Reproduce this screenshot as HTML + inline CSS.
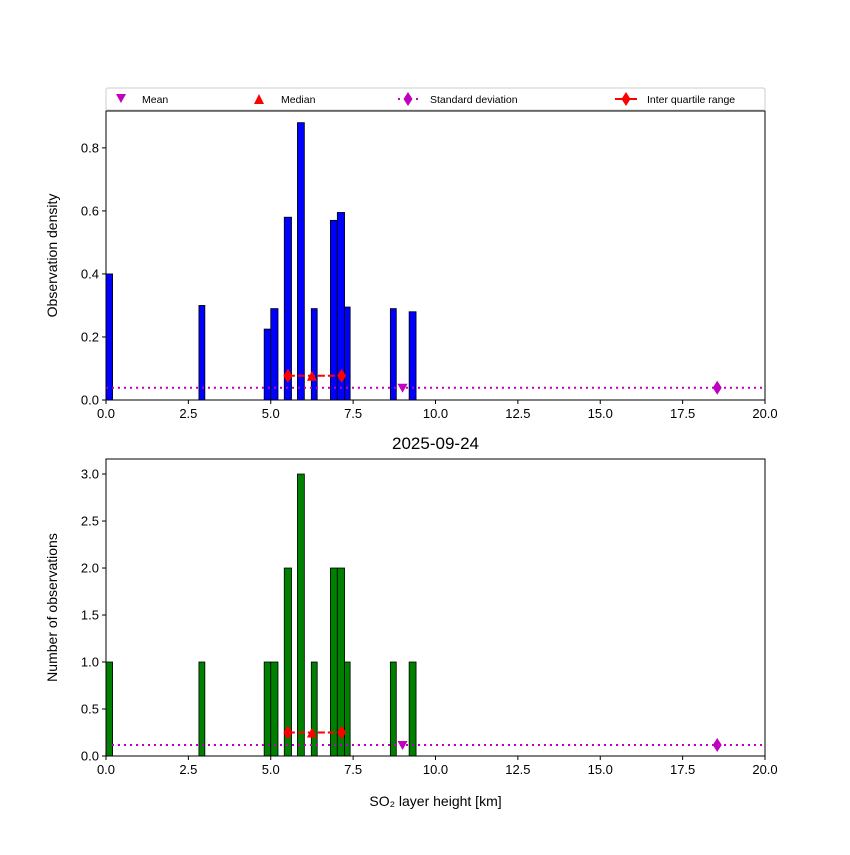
<!DOCTYPE html>
<html><head><meta charset="utf-8"><style>
body{margin:0;background:#fff;}
svg text{font-family:"Liberation Sans","DejaVu Sans",sans-serif;}
</style></head><body>
<svg id="chart" width="850" height="850" xmlns="http://www.w3.org/2000/svg"></svg>
<script>
const binLeft=[0.0,2.82,4.8,5.0,5.41,5.81,6.23,6.81,7.02,7.24,8.63,9.2];
const binRight=[0.2,3.0,5.0,5.22,5.63,6.02,6.41,7.02,7.24,7.41,8.81,9.41];
const counts=[1,1,1,1,2,3,1,2,2,1,1,1];
const densities=[0.40,0.30,0.225,0.29,0.58,0.88,0.29,0.57,0.595,0.295,0.29,0.28];
const meanVal=9.0, medianVal=6.25, q1=5.52, q3=7.15, stdHigh=18.55;
const topMarkY=[0.039,0.077], botMarkY=[0.117,0.25];
const xTicks=[0,2.5,5,7.5,10,12.5,15,17.5,20];
const topYTicks=[0,0.2,0.4,0.6,0.8];
const botYTicks=[0,0.5,1,1.5,2,2.5,3];

const svg=document.getElementById('chart');
const NS='http://www.w3.org/2000/svg';
function mk(tag,attrs,parent){const e=document.createElementNS(NS,tag);for(const k in attrs)e.setAttribute(k,attrs[k]);(parent||svg).appendChild(e);return e;}
const X0=106,X1=765;
const xs=v=>X0+(v/20)*(X1-X0);

function panel(name,yTop,yBot,yMax,vals,color,yTicks,yFmt,ylabel,markY){
  const g=mk('g',{});
  
  
  const ys=v=>yBot-(v/yMax)*(yBot-yTop);
  vals.forEach((v,i)=>{
    const r=mk('rect',{x:xs(binLeft[i]),y:ys(v),width:xs(binRight[i])-xs(binLeft[i]),height:yBot-ys(v),fill:color,stroke:'#000','stroke-width':0.8},g);
    
    
  });
  const sl=mk('line',{x1:X0,x2:X1,y1:ys(markY[0]),y2:ys(markY[0]),stroke:'#c000c0','stroke-width':2,'stroke-dasharray':'2,4'},g);
  
  
  const sx=xs(stdHigh),sy=ys(markY[0]);
  const sd=mk('polygon',{points:`${sx},${sy-7} ${sx+4.5},${sy} ${sx},${sy+7} ${sx-4.5},${sy}`,fill:'#c000c0'},g);
  
  
  const mx=xs(meanVal);
  const mm=mk('polygon',{points:`${mx-5},${sy-4} ${mx+5},${sy-4} ${mx},${sy+5}`,fill:'#c000c0'},g);
  
  
  const iy=ys(markY[1]);
  const il=mk('line',{x1:xs(q1),x2:xs(q3),y1:iy,y2:iy,stroke:'#ff0000','stroke-width':2,'stroke-dasharray':'7,3'},g);
  
  
  [q1,q3].forEach(q=>{const qx=xs(q);
    const d=mk('polygon',{points:`${qx},${iy-7} ${qx+4.5},${iy} ${qx},${iy+7} ${qx-4.5},${iy}`,fill:'#ff0000'},g);
    
    });
  const ex=xs(medianVal);
  const md=mk('polygon',{points:`${ex-5},${iy+5} ${ex+5},${iy+5} ${ex},${iy-5}`,fill:'#ff0000'},g);
  
  
  const fr=mk('rect',{x:X0,y:yTop,width:X1-X0,height:yBot-yTop,fill:'none',stroke:'#000','stroke-width':1},g);
  
  
  xTicks.forEach(t=>{mk('line',{x1:xs(t),x2:xs(t),y1:yBot,y2:yBot+4,stroke:'#000'},g);
    const tx=mk('text',{x:xs(t),y:yBot+18,'font-size':13,'text-anchor':'middle'},g);tx.textContent=t.toFixed(1);
    
    });
  yTicks.forEach(t=>{mk('line',{x1:X0-4,x2:X0,y1:ys(t),y2:ys(t),stroke:'#000'},g);
    const tx=mk('text',{x:X0-7,y:ys(t)+4.5,'font-size':13,'text-anchor':'end'},g);tx.textContent=t.toFixed(1);
    
    });
  const yl=mk('text',{x:0,y:0,'font-size':14,'text-anchor':'middle',transform:`translate(57,${(yTop+yBot)/2}) rotate(-90)`},g);
  yl.textContent=ylabel;
  
  
}
panel('density-panel',111,400,0.917,densities,'#0000ff',topYTicks,1,'Observation density',topMarkY);
panel('count-panel',459,756,3.16,counts,'#008000',botYTicks,1,'Number of observations',botMarkY);

const title=mk('text',{x:435.5,y:449,'font-size':17,'text-anchor':'middle'});
title.textContent='2025-09-24';


const xl=mk('text',{x:435.5,y:806,'font-size':14,'text-anchor':'middle'});
xl.textContent='SO₂ layer height [km]';



const lg=mk('g',{});


mk('rect',{x:106,y:88,width:659,height:22,rx:2,fill:'#fff',stroke:'#ccc'},lg);
const ly=99;
mk('polygon',{points:`116,${ly-5} 126,${ly-5} 121,${ly+4}`,fill:'#c000c0'},lg);
mk('polygon',{points:`254,${ly+5} 264,${ly+5} 259,${ly-5}`,fill:'#ff0000'},lg);
mk('line',{x1:398,x2:418,y1:ly,y2:ly,stroke:'#c000c0','stroke-width':2,'stroke-dasharray':'2,4'},lg);
mk('polygon',{points:`408,${ly-7} 412.5,${ly} 408,${ly+7} 403.5,${ly}`,fill:'#c000c0'},lg);
mk('line',{x1:615,x2:637,y1:ly,y2:ly,stroke:'#ff0000','stroke-width':2},lg);
mk('polygon',{points:`626,${ly-7} 630.5,${ly} 626,${ly+7} 621.5,${ly}`,fill:'#ff0000'},lg);
[['Mean',142],['Median',281],['Standard deviation',430],['Inter quartile range',647]].forEach(([t,x])=>{
  const e=mk('text',{x:x,y:ly+4,'font-size':10.5},lg);e.textContent=t;
  
  });
</script>
</body></html>
